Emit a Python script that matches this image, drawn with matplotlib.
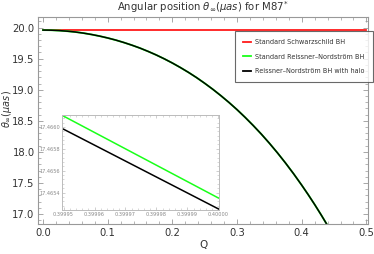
import matplotlib
matplotlib.use("Agg")
import matplotlib.pyplot as plt
from matplotlib.ticker import MultipleLocator, FormatStrFormatter
from matplotlib.lines import Line2D

# ---- data ----
Q = [0.0, 0.0125, 0.025, 0.0375, 0.05, 0.0625, 0.075, 0.0875, 0.1, 0.1125,
     0.125, 0.1375, 0.15, 0.1625, 0.175, 0.1875, 0.2, 0.2125, 0.225, 0.2375,
     0.25, 0.2625, 0.275, 0.2875, 0.3, 0.3125, 0.325, 0.3375, 0.35, 0.3625,
     0.375, 0.3875, 0.4, 0.41, 0.42, 0.43, 0.44]
theta_rn = [19.960, 19.958, 19.952, 19.942, 19.929, 19.911, 19.889, 19.863,
            19.833, 19.799, 19.760, 19.717, 19.670, 19.617, 19.560, 19.4975,
            19.430, 19.357, 19.279, 19.195, 19.104, 19.008, 18.905, 18.796,
            18.680, 18.556, 18.425, 18.287, 18.140, 17.985, 17.821, 17.648,
            17.4654, 17.313, 17.154, 16.988, 16.815]
theta_halo = [19.960, 19.958, 19.952, 19.942, 19.929, 19.911, 19.889, 19.863,
              19.833, 19.799, 19.760, 19.717, 19.670, 19.617, 19.560, 19.4975,
              19.430, 19.357, 19.279, 19.195, 19.104, 19.008, 18.905, 18.796,
              18.680, 18.556, 18.425, 18.287, 18.140, 17.985, 17.821, 17.648,
              17.4653, 17.313, 17.154, 16.988, 16.815]
Q_schw = [0.0, 0.5]
theta_schw = [19.96, 19.96]

# inset (zoom near Q = 0.4)
Q_in = [0.39995, 0.40000]
theta_rn_in = [17.46610, 17.46535]
theta_halo_in = [17.46598, 17.46525]

labels = ["Standard Schwarzschild BH", "Standard Reissner\u2013Nordstr\u00f6m BH",
          "Reissner\u2013Nordstr\u00f6m BH with halo"]
colors = ["#ff1a1a", "#19ff19", "#000000"]

tick_col = "#333333"
fig = plt.figure(figsize=(3.74, 2.54), dpi=100)
ax = fig.add_axes([0.1016, 0.118, 0.8824, 0.815])

ax.plot(Q_schw, theta_schw, color=colors[0], lw=1.3)
ax.plot(Q, theta_rn, color=colors[1], lw=1.35)
ax.plot(Q, theta_halo, color=colors[2], lw=1.1)

ax.set_xlim(-0.0077, 0.5025)
ax.set_ylim(16.84, 20.17)
ax.xaxis.set_major_locator(MultipleLocator(0.1))
ax.xaxis.set_minor_locator(MultipleLocator(0.02))
ax.yaxis.set_major_locator(MultipleLocator(0.5))
ax.yaxis.set_minor_locator(MultipleLocator(0.1))
ax.xaxis.set_major_formatter(FormatStrFormatter("%.1f"))
ax.yaxis.set_major_formatter(FormatStrFormatter("%.1f"))
ax.tick_params(which="both", direction="in", top=True, right=True,
               labelsize=7.2, labelcolor=tick_col, color="#999999", pad=2.5)
ax.tick_params(which="major", length=3.5, width=0.6)
ax.tick_params(which="minor", length=2, width=0.5)
for s in ax.spines.values():
    s.set_color("#999999")
    s.set_linewidth(0.8)

ax.set_xlabel("Q", fontsize=7.5, color=tick_col, labelpad=2)
ax.set_ylabel(r"$\theta_{\infty}(\mu a s)$", fontsize=7.0, color=tick_col)
ax.yaxis.set_label_coords(-0.074, 0.555)
ax.set_title(r"Angular position $\theta_{\infty}(\mu a s)$ for M87$^{*}$",
             fontsize=7.3, color="#333333", pad=4)

handles = [Line2D([], [], color=c, lw=1.3) for c in colors]
leg = fig.legend(handles, labels, loc="upper left",
                 bbox_to_anchor=(235 / 374, 1 - 31 / 254),
                 fontsize=4.7, frameon=True, fancybox=False,
                 handlelength=1.3, handletextpad=0.6, borderpad=1.2,
                 labelspacing=1.35, borderaxespad=0)
leg.get_frame().set_edgecolor("#444444")
leg.get_frame().set_linewidth(0.8)
for t in leg.get_texts():
    t.set_color("#333333")

# inset
axi = fig.add_axes([62 / 374, 1 - 210 / 254, 157 / 374, 95 / 254])
axi.plot(Q_in, theta_rn_in, color=colors[1], lw=1.1)
axi.plot(Q_in, theta_halo_in, color=colors[2], lw=1.1)
axi.set_xlim(0.3999495, 0.4000002)
axi.set_ylim(17.46524, 17.46611)
axi.xaxis.set_major_locator(MultipleLocator(0.00001))
axi.xaxis.set_minor_locator(MultipleLocator(0.000002))
axi.yaxis.set_major_locator(MultipleLocator(0.0002))
axi.yaxis.set_minor_locator(MultipleLocator(0.00004))
axi.xaxis.set_major_formatter(FormatStrFormatter("%.5f"))
axi.yaxis.set_major_formatter(FormatStrFormatter("%.4f"))
axi.tick_params(which="both", direction="in", top=True, right=True,
                labelsize=3.6, labelcolor="#888888", color="#bbbbbb", pad=1.5)
axi.tick_params(which="major", length=2, width=0.5)
axi.tick_params(which="minor", length=1.2, width=0.4)
for s in axi.spines.values():
    s.set_color("#bbbbbb")
    s.set_linewidth(0.7)

fig.savefig("out.png", dpi=100)
